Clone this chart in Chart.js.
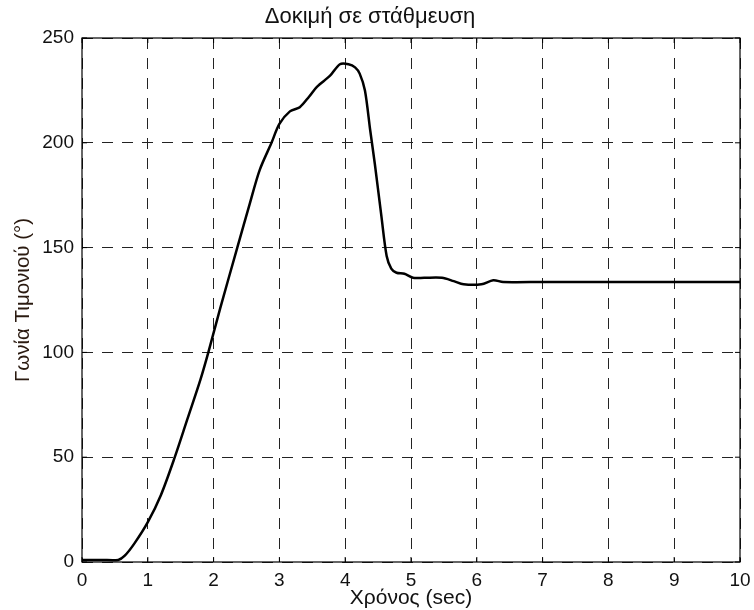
<!DOCTYPE html>
<html>
<head>
<meta charset="utf-8">
<script src="https://cdn.jsdelivr.net/npm/chart.js@4/dist/chart.umd.min.js"></script>
<style>
html,body{margin:0;padding:0;background:#fff;}
#wrap{width:754px;height:610px;}
</style>
</head>
<body>
<div id="wrap"><canvas id="c" width="754" height="610"></canvas></div>
<script>
const titleText = "Δοκιμή σε στάθμευση";
const xTitle = "Χρόνος (sec)";
const yTitle = "Γωνία Τιμονιού (°)";
const timeSec = [0, 0.3, 0.55, 0.65, 0.8, 1.0, 1.2, 1.41, 1.6, 1.8, 1.92, 2.1, 2.36, 2.55, 2.7, 2.88, 3.0, 3.16, 3.31, 3.45, 3.57, 3.77, 3.92, 4.05, 4.15, 4.22, 4.3, 4.38, 4.45, 4.55, 4.63, 4.7, 4.78, 4.9, 5.03, 5.2, 5.47, 5.65, 5.8, 6.07, 6.25, 6.4, 7, 8, 9, 10];
const angleDeg = [1, 1, 1, 3, 9, 19, 32, 50, 68, 87, 100, 121, 150, 171, 187, 200, 209, 215, 217, 222, 226.7, 232, 237.5, 237.5, 236, 233, 225, 206, 190, 165, 146, 140, 138, 137.5, 135.6, 135.6, 135.6, 134, 132.5, 132.5, 134.4, 133.6, 133.6, 133.6, 133.6, 133.6];
const xTicks = [0,1,2,3,4,5,6,7,8,9,10];
const yTicks = [0,50,100,150,200,250];

const points = timeSec.map((t,i)=>({x:t,y:angleDeg[i]}));
const FONT = 'Liberation Sans, Arial, sans-serif';

const frame = {
  id:'frame',
  afterDraw(chart){
    const {ctx, chartArea:a} = chart;
    ctx.save();
    ctx.strokeStyle = '#000';
    ctx.lineWidth = 1.2;
    ctx.strokeRect(a.left, a.top, a.right-a.left, a.bottom-a.top);
    const xs = chart.scales.x, ys = chart.scales.y;
    ctx.lineWidth = 1;
    xTicks.forEach(v=>{const p=xs.getPixelForValue(v);
      ctx.beginPath();ctx.moveTo(p,a.bottom);ctx.lineTo(p,a.bottom-5);ctx.moveTo(p,a.top);ctx.lineTo(p,a.top+5);ctx.stroke();});
    yTicks.forEach(v=>{const p=ys.getPixelForValue(v);
      ctx.beginPath();ctx.moveTo(a.left,p);ctx.lineTo(a.left+5,p);ctx.moveTo(a.right,p);ctx.lineTo(a.right-5,p);ctx.stroke();});
    ctx.restore();
  }
};

new Chart(document.getElementById('c'), {
  type:'line',
  data:{datasets:[{data:points, borderColor:'#000', borderWidth:2.5, pointRadius:0, tension:0.3, fill:false}]},
  options:{
    responsive:false, animation:false,
    layout:{padding:{left:0,right:14,top:0,bottom:0}},
    plugins:{
      legend:{display:false}, tooltip:{enabled:false},
      title:{display:true, text:titleText, color:'#111', font:{family:FONT, size:22, weight:'normal'}, padding:{top:4,bottom:7.6}}
    },
    scales:{
      x:{type:'linear', min:0, max:10,
        afterBuildTicks(s){s.ticks = xTicks.map(v=>({value:v}));},
        afterFit(s){s.height = 48; s.paddingLeft = 0; s.paddingRight = 0;},
        grid:{color:'#222', lineWidth:1, drawTicks:false},
        border:{display:false, dash:[11,9]},
        ticks:{color:'#111', font:{family:FONT, size:19}, padding:7},
        title:{display:true, text:xTitle, color:'#111', font:{family:FONT, size:21}, padding:{top:0,bottom:-1}}
      },
      y:{type:'linear', min:0, max:250,
        afterBuildTicks(s){s.ticks = yTicks.map(v=>({value:v}));},
        afterFit(s){s.width = 82;},
        grid:{color:'#222', lineWidth:1, drawTicks:false},
        border:{display:false, dash:[11,9]},
        ticks:{color:'#111', font:{family:FONT, size:19}, padding:8},
        title:{display:true, text:yTitle, color:'#2a1a10', font:{family:FONT, size:20.5}, padding:{top:11,bottom:4}}
      }
    }
  },
  plugins:[frame]
});
</script>
</body>
</html>
